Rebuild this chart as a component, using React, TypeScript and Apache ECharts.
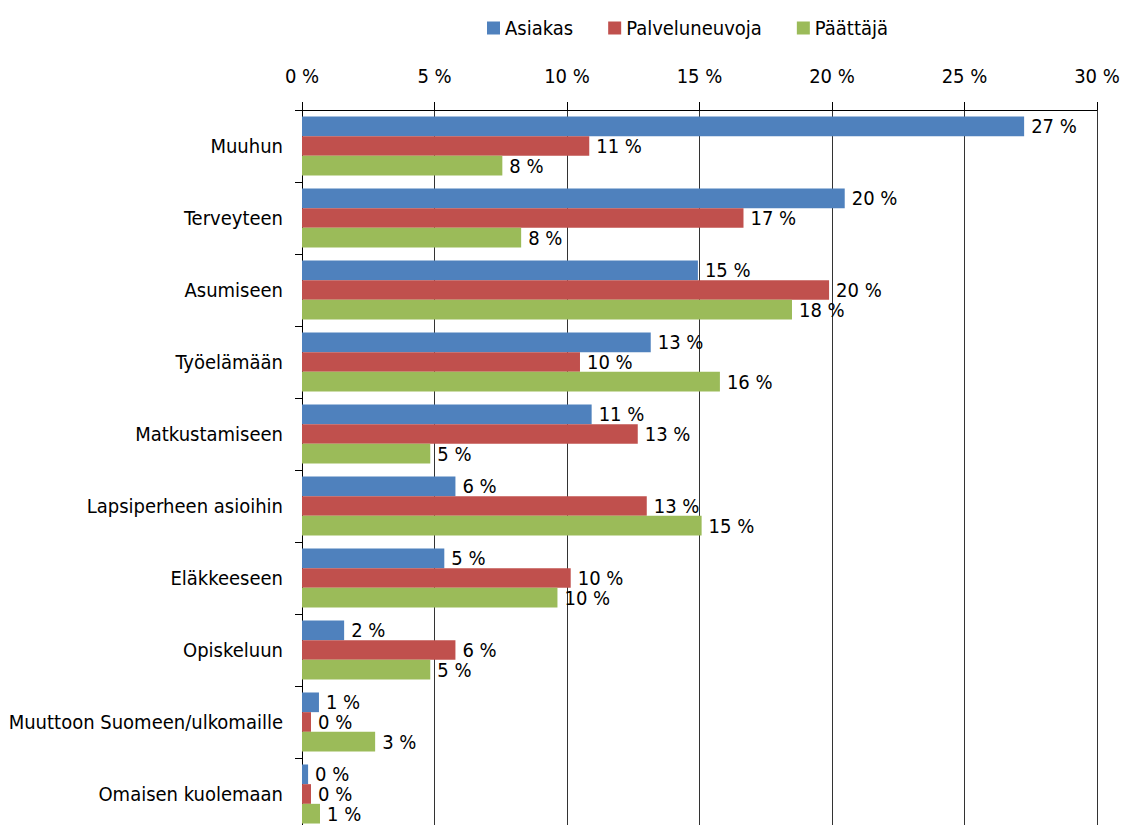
import React, { useEffect, useRef } from "react";
import * as echarts from "echarts";

const categories = [
  "Muuhun",
  "Terveyteen",
  "Asumiseen",
  "Työelämään",
  "Matkustamiseen",
  "Lapsiperheen asioihin",
  "Eläkkeeseen",
  "Opiskeluun",
  "Muuttoon Suomeen/ulkomaille",
  "Omaisen kuolemaan",
];
const seriesNames = ["Asiakas", "Palveluneuvoja", "Päättäjä"];
const asiakas = [27.25, 20.48, 14.94, 13.16, 10.93, 5.79, 5.37, 1.59, 0.64, 0.23];
const palveluneuvoja = [10.84, 16.66, 19.89, 10.49, 12.67, 13.01, 10.14, 5.79, 0.34, 0.34];
const paattaja = [7.56, 8.27, 18.49, 15.77, 4.84, 15.08, 9.64, 4.84, 2.76, 0.68];
const colors = ["#4F81BD", "#C0504D", "#9BBB59"];
const xMin = 0;
const xMax = 30;
const xInterval = 5;

const FONT = "'DejaVu Sans Condensed', 'DejaVu Sans', sans-serif";
const FS = 20;

export default function App() {
  const ref = useRef<HTMLDivElement>(null);
  useEffect(() => {
    if (!ref.current) return;
    const chart = echarts.init(ref.current, undefined, { renderer: "svg" });
    const allData = [asiakas, palveluneuvoja, paattaja];
    chart.setOption({
      animation: false,
      textStyle: { fontFamily: FONT, color: "#000" },
      legend: {
        data: seriesNames,
        left: 482,
        top: 13,
        itemWidth: 13,
        itemHeight: 13,
        itemGap: 35,
        icon: "rect",
        textStyle: { fontFamily: FONT, fontSize: FS, color: "#000" },
      },
      grid: {
        left: 302,
        top: 110,
        width: 795,
        height: 720,
        containLabel: false,
        outerBoundsMode: "none",
      },
      xAxis: {
        type: "value",
        position: "top",
        min: xMin,
        max: xMax,
        interval: xInterval,
        axisLine: { show: true, lineStyle: { color: "#000", width: 1 } },
        axisTick: { show: true, length: 8, lineStyle: { color: "#000" } },
        splitLine: { show: true, lineStyle: { color: "#333", width: 1 } },
        axisLabel: {
          formatter: "{value} %",
          fontFamily: FONT,
          fontSize: FS,
          color: "#000",
          margin: 24,
        },
      },
      yAxis: {
        type: "category",
        data: categories,
        inverse: true,
        axisLine: { show: true, lineStyle: { color: "#000", width: 1 } },
        axisTick: { show: true, length: 7, lineStyle: { color: "#000" } },
        axisLabel: { fontFamily: FONT, fontSize: FS, color: "#000", margin: 19 },
      },
      series: seriesNames.map((name, i) => ({
        name,
        type: "bar",
        data: allData[i],
        barGap: "0%",
        barCategoryGap: "18%",
        itemStyle: { color: colors[i] },
        label: {
          show: true,
          position: "right",
          distance: 7,
          fontFamily: FONT,
          fontSize: FS,
          color: "#000",
          formatter: (p: any) => Math.round(p.value) + " %",
        },
      })),
    });
    return () => chart.dispose();
  }, []);
  return (
    <div
      style={{
        position: "fixed",
        left: 0,
        top: 0,
        width: 1122,
        height: 825,
        overflow: "hidden",
        background: "#fff",
      }}
    >
      <div ref={ref} style={{ width: 1122, height: 845 }} />
    </div>
  );
}
